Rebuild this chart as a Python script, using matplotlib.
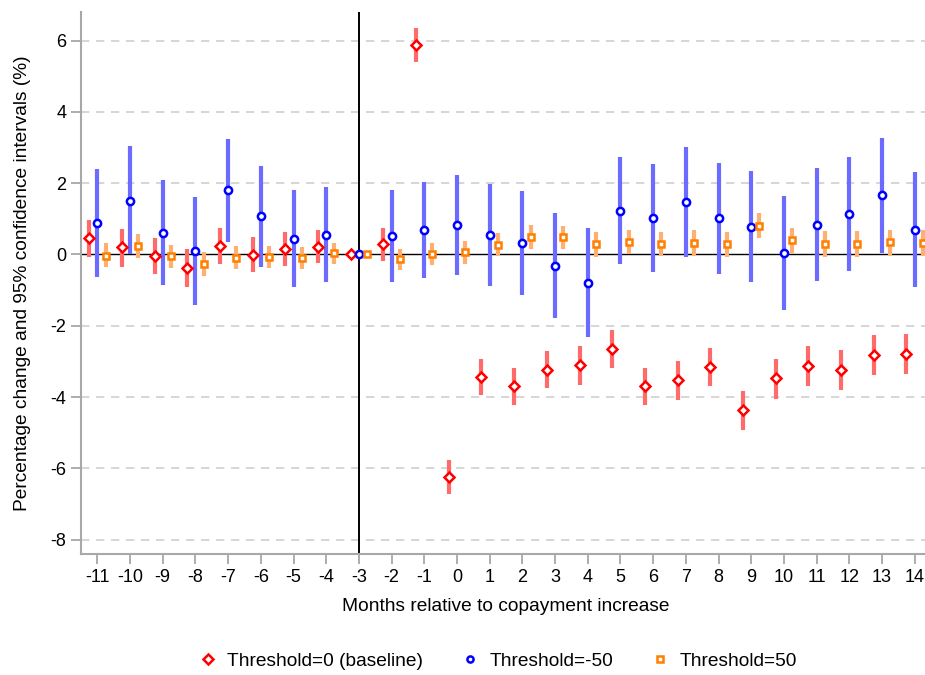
import numpy as np
import matplotlib.pyplot as plt

plt.rcParams['font.family'] = ['Liberation Sans', 'DejaVu Sans']
plt.rcParams['axes.unicode_minus'] = False

# months relative to copayment increase
months = list(range(-11, 15))

# Threshold=0 (baseline)
base_est = [0.45, 0.20, -0.04, -0.39, 0.23, -0.01, 0.16, 0.21, 0.0, 0.29, 5.87, -6.23,
            -3.43, -3.70, -3.23, -3.11, -2.66, -3.70, -3.52, -3.16, -4.36, -3.47,
            -3.13, -3.24, -2.81, -2.79]
base_hi = [0.98, 0.72, 0.46, 0.15, 0.74, 0.49, 0.64, 0.68, 0.0, 0.75, 6.36, -5.75,
           -2.92, -3.18, -2.71, -2.58, -2.13, -3.17, -2.98, -2.61, -3.82, -2.92,
           -2.57, -2.68, -2.25, -2.23]
base_lo = [-0.08, -0.35, -0.55, -0.92, -0.28, -0.50, -0.33, -0.25, 0.0, -0.18, 5.41, -6.73,
           -3.94, -4.21, -3.75, -3.66, -3.19, -4.23, -4.07, -3.70, -4.91, -4.04,
           -3.69, -3.80, -3.38, -3.35]

# Threshold=-50
neg_est = [0.88, 1.51, 0.61, 0.09, 1.80, 1.07, 0.44, 0.55, 0.0, 0.53, 0.68, 0.83,
           0.54, 0.33, -0.32, -0.80, 1.23, 1.02, 1.47, 1.01, 0.76, 0.03,
           0.84, 1.13, 1.66, 0.70]
neg_hi = [2.40, 3.03, 2.08, 1.61, 3.24, 2.49, 1.80, 1.88, 0.0, 1.82, 2.02, 2.22,
          1.98, 1.78, 1.16, 0.73, 2.72, 2.54, 3.01, 2.56, 2.33, 1.63,
          2.42, 2.72, 3.27, 2.31]
neg_lo = [-0.64, 0.0, -0.87, -1.42, 0.34, -0.35, -0.91, -0.77, 0.0, -0.78, -0.67, -0.58,
          -0.89, -1.13, -1.79, -2.32, -0.26, -0.49, -0.07, -0.55, -0.78, -1.56,
          -0.75, -0.47, 0.05, -0.90]

# Threshold=50
pos_est = [-0.04, 0.24, -0.05, -0.27, -0.09, -0.08, -0.09, 0.03, 0.0, -0.13, 0.0, 0.07,
           0.27, 0.50, 0.48, 0.29, 0.35, 0.30, 0.32, 0.28, 0.80, 0.40,
           0.30, 0.30, 0.34, 0.33]
pos_hi = [0.31, 0.57, 0.26, 0.06, 0.23, 0.24, 0.21, 0.32, 0.0, 0.16, 0.31, 0.38,
          0.59, 0.83, 0.80, 0.62, 0.69, 0.64, 0.68, 0.62, 1.15, 0.75,
          0.65, 0.65, 0.70, 0.68]
pos_lo = [-0.36, -0.09, -0.38, -0.61, -0.42, -0.38, -0.40, -0.27, 0.0, -0.43, -0.30, -0.26,
          -0.05, 0.16, 0.14, -0.06, 0.02, -0.04, -0.03, -0.08, 0.45, 0.04,
          -0.07, -0.06, -0.03, -0.03]

x = np.array(months, dtype=float)

fig = plt.figure(figsize=(9.25, 6.75), dpi=100)
ax = fig.add_axes([81 / 925, 1 - 554 / 675, (931 - 81) / 925, (554 - 12) / 675])

ax.set_xlim(-11.5, 14.5)
ax.set_ylim(-8.4, 6.8)

for yv in range(-8, 7, 2):
    if yv != 0:
        ax.axhline(yv, color='#d0d0d0', lw=1.2, ls=(0, (5, 4)), zorder=0)
ax.axhline(0, color='black', lw=1.0, zorder=1)
ax.axvline(-3, color='black', lw=1.4, zorder=1)

series = [
    (x - 0.25, base_est, base_lo, base_hi, 'D', '#ff0000', '#ff6b6b', 5.6, 'Threshold=0 (baseline)'),
    (x, neg_est, neg_lo, neg_hi, 'o', '#0000ff', '#6b6bff', 5.2, 'Threshold=-50'),
    (x + 0.25, pos_est, pos_lo, pos_hi, 's', '#ff7f00', '#ffb070', 5.0, 'Threshold=50'),
]
handles = []
for xs, est, lo, hi, mk, col, cicol, ms, lab in series:
    ax.vlines(xs, lo, hi, color=cicol, lw=3.0, zorder=2)
    h, = ax.plot(xs, est, ls='none', marker=mk, ms=ms, mfc='white', mec=col, mew=1.8,
                 zorder=3, label=lab)
    handles.append(h)

ax.set_xticks(months)
ax.set_xticklabels([str(m) for m in months])
ax.set_yticks(range(-8, 7, 2))
ax.tick_params(axis='both', colors='#a0a0a0', labelcolor='black', labelsize=13,
               length=7, width=1.2, direction='out')
for s in ['top', 'right']:
    ax.spines[s].set_visible(False)
for s in ['left', 'bottom']:
    ax.spines[s].set_color('#a8a8a8')
    ax.spines[s].set_linewidth(1.5)

ax.set_xlabel('Months relative to copayment increase', fontsize=13.8, labelpad=9)
ax.set_ylabel('Percentage change and 95% confidence intervals (%)', fontsize=13.8, labelpad=14)

fig.legend(handles=handles, loc='center', bbox_to_anchor=(0.538, 0.021), ncol=3,
           frameon=False, fontsize=13.8, markerscale=0.85, handlelength=1.0,
           columnspacing=1.95, handletextpad=0.52)

fig.savefig('out.png', dpi=100)
